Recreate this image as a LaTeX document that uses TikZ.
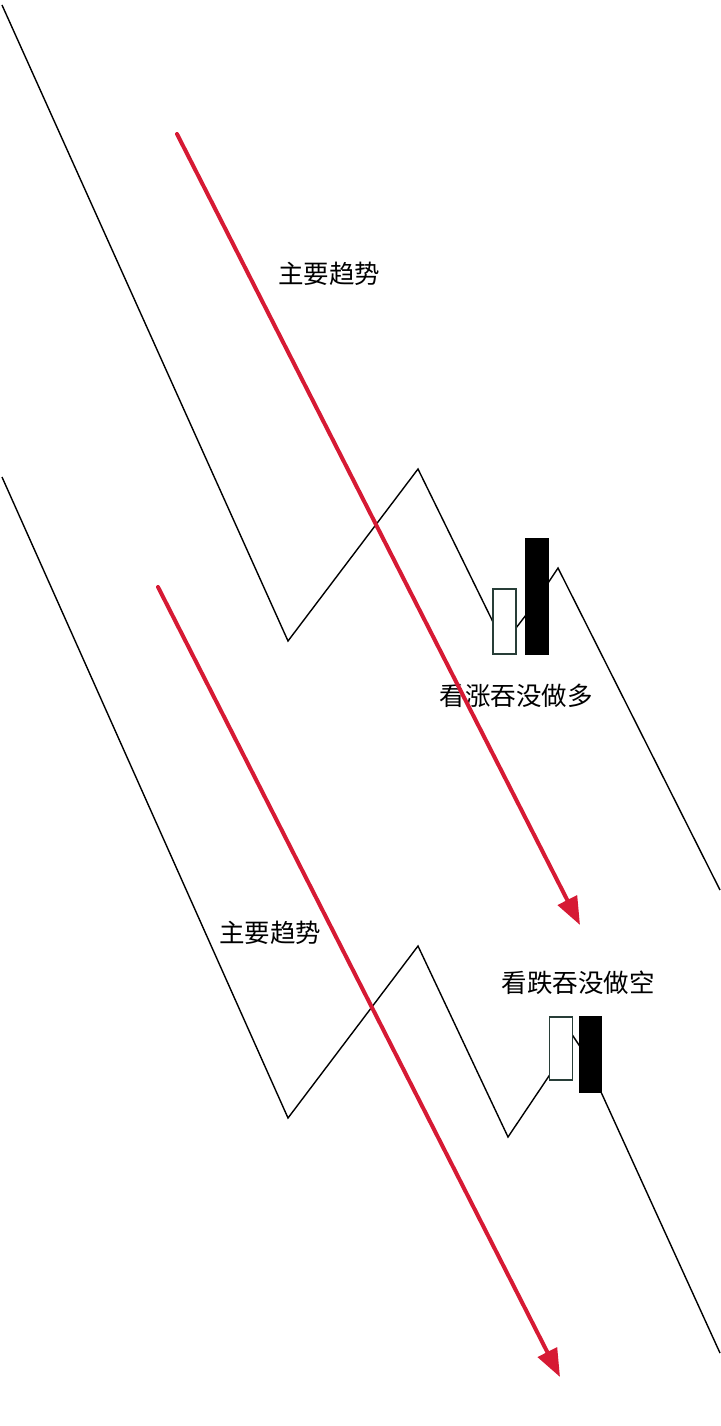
\documentclass[tikz,border=0pt]{standalone}
\usepackage{fontspec}
\newfontfamily\cjk{Noto Sans CJK SC}
\usetikzlibrary{arrows.meta}
\definecolor{trendred}{RGB}{214,26,52}
\definecolor{candleedge}{RGB}{40,62,56}

\begin{document}
\begin{tikzpicture}[x=1pt, y=-1pt,
	trend/.style={draw=trendred, line width=4pt, line cap=round, -{Triangle[length=28pt, width=21pt]}},
	price/.style={draw=black, line width=1.4pt},
	bull/.style={draw=candleedge, fill=white, line width=1.4pt, minimum width=23pt, inner sep=0pt},
	bear/.style={draw=black, fill=black, line width=1.4pt, minimum width=22pt, inner sep=0pt},
	lbl/.style={font=\cjk\fontsize{25.5}{30}\selectfont, inner sep=0pt}]
	\useasboundingbox (0,0) rectangle (720,1426);
	%upper price path and bullish engulfing
	\coordinate (a0) at (2,5);
	\coordinate (a1) at (288,641);
	\coordinate (a2) at (418,469);
	\coordinate (a3) at (493,622);
	\coordinate (a4) at (516,628);
	\coordinate (a5) at (526,615);
	\coordinate (a6) at (548,583);
	\coordinate (a7) at (558,568);
	\coordinate (a8) at (720,890);
	\draw[price] (a0) -- (a1) -- (a2) -- (a3);
	\draw[price] (a4) -- (a5);
	\draw[price] (a6) -- (a7) -- (a8);
	\node[bull, minimum height=65pt] (bullA) at (504.5,621.5) {};
	\node[bear, minimum height=115pt] (bearA) at (537,596.5) {};
	\node[lbl] (engulfA) at (516,696) {看涨吞没做多};
	%upper main trend
	\coordinate (ta) at (177,134);
	\coordinate (tb) at (580,925);
	\draw[trend] (ta) -- (tb);
	\node[lbl] (mainA) at (329,274) {主要趋势};
	%lower price path and bearish engulfing
	\coordinate (b0) at (2,477);
	\coordinate (b1) at (288,1118);
	\coordinate (b2) at (418,946);
	\coordinate (b3) at (508,1137);
	\coordinate (b4) at (551,1073);
	\coordinate (b5) at (571,1033);
	\coordinate (b6) at (581,1048);
	\coordinate (b7) at (601,1092);
	\coordinate (b8) at (720,1353);
	\draw[price] (b0) -- (b1) -- (b2) -- (b3) -- (b4);
	\draw[price] (b5) -- (b6);
	\draw[price] (b7) -- (b8);
	\node[bull, minimum height=63pt] (bullB) at (561,1048.5) {};
	\node[bear, minimum height=75pt] (bearB) at (590.5,1054.5) {};
	\node[lbl] (engulfB) at (578,983) {看跌吞没做空};
	%lower main trend
	\coordinate (tc) at (158,587);
	\coordinate (td) at (560,1377);
	\draw[trend] (tc) -- (td);
	\node[lbl] (mainB) at (270,933) {主要趋势};
\end{tikzpicture}
\end{document}
